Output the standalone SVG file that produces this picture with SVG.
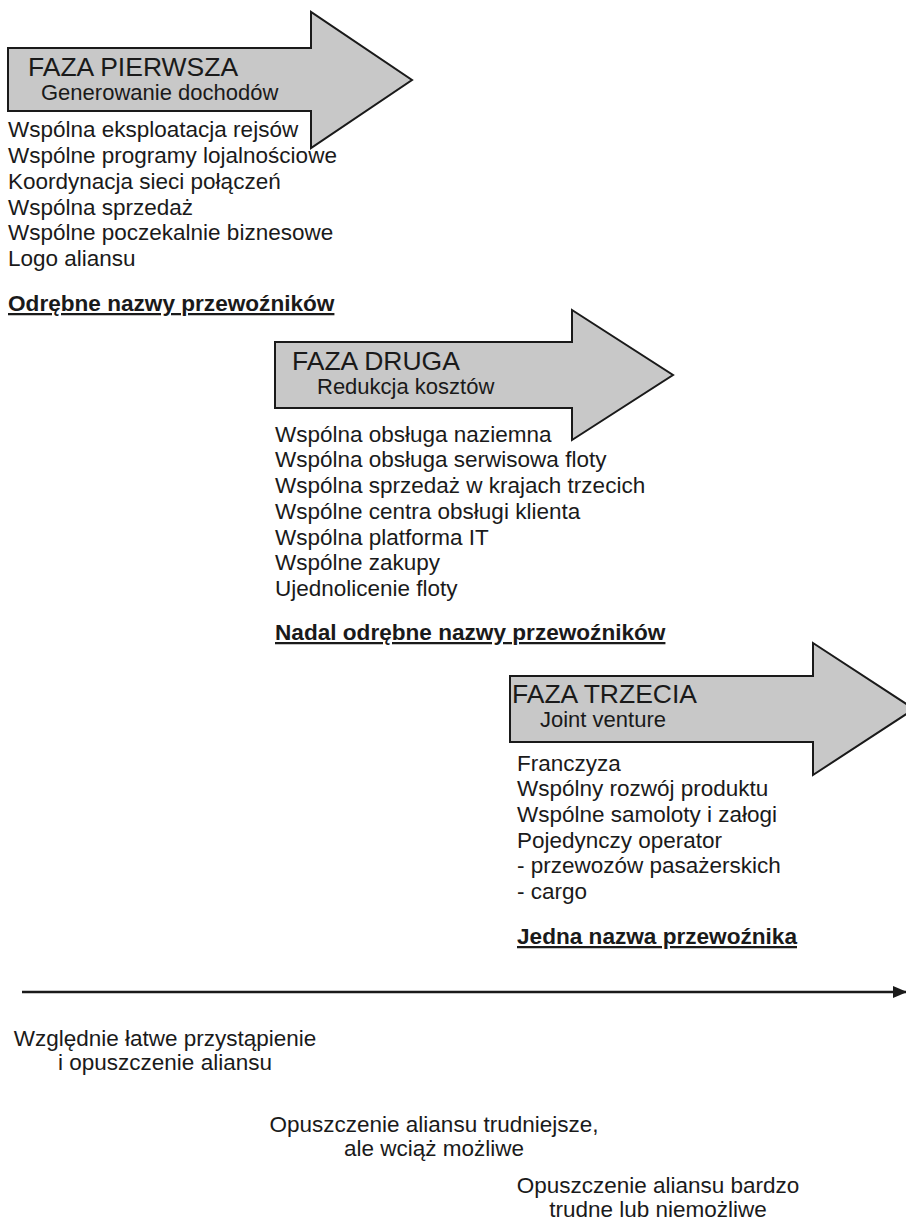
<svg xmlns="http://www.w3.org/2000/svg" width="906" height="1227" viewBox="0 0 906 1227">
<style>
.arrow{fill:#c8c8c8;stroke:#1a1a1a;stroke-width:2;stroke-linejoin:miter}
.t{font-family:"Liberation Sans",Arial,sans-serif;fill:#1a1a1a}
.h{font-size:26.5px}
.s{font-size:22px}
.l{font-size:22.5px}
.b{font-size:22.6px;font-weight:bold;text-decoration:underline}
.c{text-anchor:middle;font-size:22.5px}
</style>
<defs>
<marker id="ah" markerWidth="14" markerHeight="12" refX="13" refY="6" orient="auto" markerUnits="userSpaceOnUse">
<path d="M0,0 L14,6 L0,12 Z" fill="#1a1a1a"/>
</marker>
</defs>
<g id="phase1">
<path class="arrow" d="M8,48 L311,48 L311,12 L412,80 L311,148 L311,111 L8,111 Z"/>
<text class="t h" x="28" y="76">FAZA PIERWSZA</text>
<text class="t s" x="41" y="100">Generowanie dochodów</text>
<text class="t l" x="8" y="137">Wspólna eksploatacja rejsów</text>
<text class="t l" x="8" y="163">Wspólne programy lojalnościowe</text>
<text class="t l" x="8" y="189">Koordynacja sieci połączeń</text>
<text class="t l" x="8" y="215">Wspólna sprzedaż</text>
<text class="t l" x="8" y="240">Wspólne poczekalnie biznesowe</text>
<text class="t l" x="8" y="266">Logo aliansu</text>
<text class="t b" x="8" y="311">Odrębne nazwy przewoźników</text>
</g>
<g id="phase2">
<path class="arrow" d="M275,342 L572,342 L572,310 L673,375 L572,440 L572,408 L275,408 Z"/>
<text class="t h" x="292" y="370">FAZA DRUGA</text>
<text class="t s" x="317" y="394">Redukcja kosztów</text>
<text class="t l" x="275" y="442">Wspólna obsługa naziemna</text>
<text class="t l" x="275" y="467">Wspólna obsługa serwisowa floty</text>
<text class="t l" x="275" y="493">Wspólna sprzedaż w krajach trzecich</text>
<text class="t l" x="275" y="519">Wspólne centra obsługi klienta</text>
<text class="t l" x="275" y="545">Wspólna platforma IT</text>
<text class="t l" x="275" y="570">Wspólne zakupy</text>
<text class="t l" x="275" y="596">Ujednolicenie floty</text>
<text class="t b" x="275" y="640">Nadal odrębne nazwy przewoźników</text>
</g>
<g id="phase3">
<path class="arrow" d="M510,676 L813,676 L813,643 L914,709 L813,775 L813,742 L510,742 Z"/>
<text class="t h" x="512" y="703">FAZA TRZECIA</text>
<text class="t s" x="540" y="727">Joint venture</text>
<text class="t l" x="517" y="771">Franczyza</text>
<text class="t l" x="517" y="796">Wspólny rozwój produktu</text>
<text class="t l" x="517" y="822">Wspólne samoloty i załogi</text>
<text class="t l" x="517" y="848">Pojedynczy operator</text>
<text class="t l" x="517" y="873">- przewozów pasażerskich</text>
<text class="t l" x="517" y="899">- cargo</text>
<text class="t b" x="517" y="944">Jedna nazwa przewoźnika</text>
</g>
<g id="connectors">
<line x1="22" y1="992" x2="906" y2="992" stroke="#1a1a1a" stroke-width="2.5" marker-end="url(#ah)"/>
</g>
<g id="labels">
<text class="t c" x="165" y="1046">Względnie łatwe przystąpienie</text>
<text class="t c" x="165" y="1070">i opuszczenie aliansu</text>
<text class="t c" x="434" y="1132">Opuszczenie aliansu trudniejsze,</text>
<text class="t c" x="434" y="1156">ale wciąż możliwe</text>
<text class="t c" x="658" y="1193">Opuszczenie aliansu bardzo</text>
<text class="t c" x="658" y="1217">trudne lub niemożliwe</text>
</g>
</svg>
